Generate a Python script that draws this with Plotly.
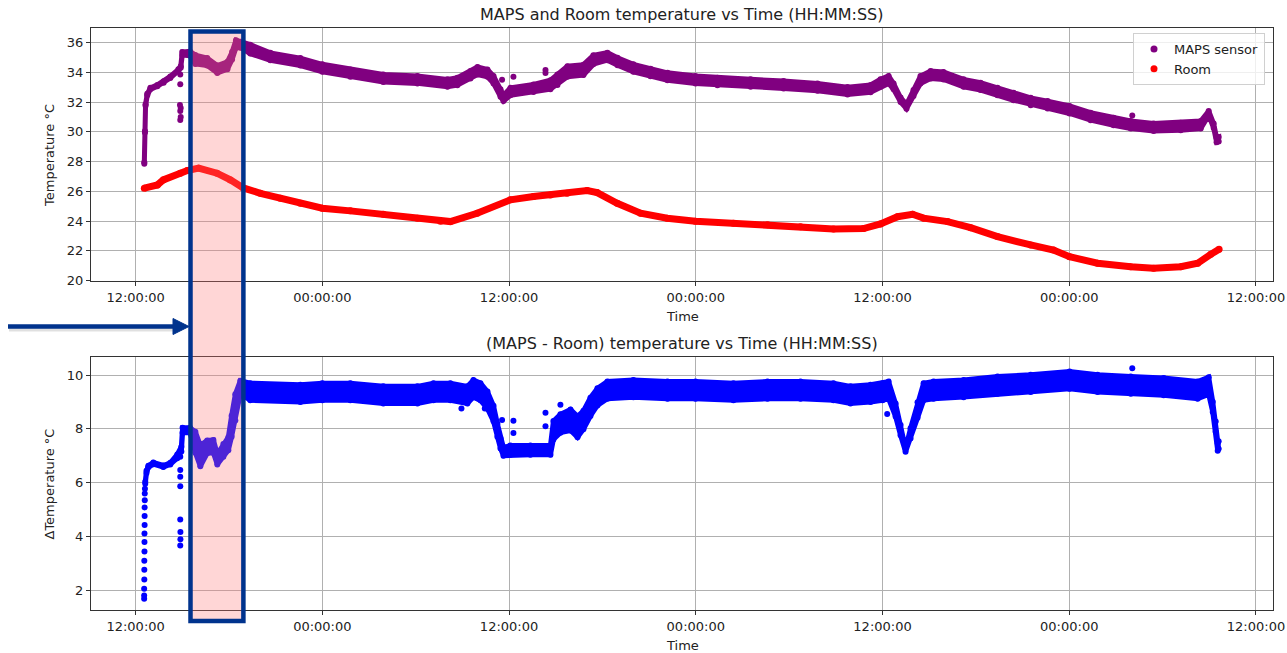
import pandas as pd
import plotly.graph_objects as go

# ---------------------------------------------------------------------------
# Logged readings (time = hours elapsed since midnight of the first day)
# ---------------------------------------------------------------------------
maps_hours = [12.56, 12.60, 12.64, 12.75, 12.95, 13.40, 13.80, 14.23, 14.75, 14.90,
              15.00, 15.50, 15.84, 16.60, 17.25, 17.90, 18.20, 18.45, 18.75, 19.37,
              20.66, 22.59, 24.00, 25.80, 27.92, 30.11, 32.04, 32.68, 33.52, 33.97,
              34.61, 35.00, 35.45, 35.64, 36.09, 37.57, 38.66, 39.11, 39.75, 40.78,
              41.42, 42.32, 42.97, 43.99, 45.09, 46.18, 47.98, 49.39, 51.52, 53.64,
              55.82, 57.75, 59.23, 59.87, 60.39, 60.71, 61.16, 61.54, 61.99, 62.44,
              63.09, 63.92, 65.21, 66.30, 67.39, 68.42, 69.52, 70.61, 72.02, 73.37,
              74.85, 75.95, 77.42, 79.16, 80.45, 80.96, 81.28, 81.47, 81.60]
maps_temp = [27.90, 30.00, 31.80, 32.50, 32.90, 33.10, 33.35, 33.67, 34.15, 34.35,
             35.25, 35.25, 34.85, 34.70, 34.20, 34.45, 35.10, 35.90, 35.85, 35.55,
             35.05, 34.70, 34.28, 33.94, 33.60, 33.50, 33.27, 33.38, 33.83, 34.10,
             33.94, 33.50, 32.60, 32.26, 32.70, 32.93, 33.16, 33.50, 34.05, 34.16,
             34.84, 35.06, 34.72, 34.28, 33.98, 33.71, 33.49, 33.38, 33.27, 33.16,
             33.00, 32.75, 32.90, 33.27, 33.50, 33.05, 32.15, 31.70, 32.60, 33.49,
             33.83, 33.76, 33.27, 33.05, 32.70, 32.37, 32.03, 31.81, 31.48, 31.03,
             30.69, 30.47, 30.30, 30.35, 30.47, 31.25, 30.40, 29.45, 29.50]
# half-spread of the scatter band around each reading (degC)
maps_spread = [0.05, 0.05, 0.05, 0.05, 0.05, 0.05, 0.05, 0.05, 0.05, 0.05,
               0.10, 0.15, 0.30, 0.25, 0.25, 0.25, 0.25, 0.25, 0.20, 0.30,
               0.25, 0.25, 0.25, 0.25, 0.25, 0.25, 0.25, 0.25, 0.25, 0.25,
               0.25, 0.25, 0.25, 0.20, 0.25, 0.25, 0.30, 0.35, 0.35, 0.35,
               0.30, 0.25, 0.25, 0.25, 0.25, 0.25, 0.25, 0.25, 0.25, 0.25,
               0.25, 0.25, 0.25, 0.25, 0.25, 0.20, 0.15, 0.15, 0.20, 0.25,
               0.25, 0.25, 0.25, 0.25, 0.25, 0.25, 0.25, 0.25, 0.25, 0.25,
               0.25, 0.25, 0.25, 0.25, 0.25, 0.15, 0.15, 0.15, 0.15]
maps_stray_hours = [14.87, 14.87, 14.85, 14.87, 14.90, 14.87, 14.90,
                    35.55, 36.28, 38.34, 38.34, 76.05]
maps_stray_temp = [33.85, 33.20, 31.80, 31.40, 31.00, 30.80, 31.60,
                   33.50, 33.70, 34.15, 33.95, 31.10]

room_hours = [12.56, 13.40, 13.78, 14.87, 15.32, 16.05, 17.23, 18.09, 18.92, 20.02,
              21.30, 22.59, 24.00, 25.80, 27.92, 30.11, 31.59, 32.23, 33.95, 36.09,
              37.57, 38.66, 39.73, 41.02, 41.66, 42.95, 44.45, 46.16, 47.98, 50.42,
              52.61, 54.73, 56.85, 58.78, 59.87, 60.96, 61.93, 62.64, 64.18, 65.66,
              67.39, 69.52, 70.99, 72.02, 73.82, 75.95, 77.42, 79.16, 80.25, 81.09,
              81.63]
room_temp = [26.21, 26.43, 26.77, 27.22, 27.40, 27.56, 27.22, 26.77, 26.23, 25.87,
             25.54, 25.20, 24.87, 24.69, 24.46, 24.20, 24.00, 23.97, 24.53, 25.43,
             25.65, 25.76, 25.87, 26.05, 25.92, 25.20, 24.53, 24.20, 24.00, 23.86,
             23.75, 23.63, 23.48, 23.50, 23.81, 24.30, 24.46, 24.20, 23.97, 23.56,
             22.96, 22.40, 22.06, 21.61, 21.17, 20.94, 20.83, 20.94, 21.17, 21.77,
             22.11]

delta_hours = [12.62, 12.70, 12.82, 13.14, 13.78, 14.23, 14.68, 14.94, 15.02, 15.50,
               15.84, 16.16, 16.60, 17.00, 17.25, 17.64, 17.96, 18.17, 18.41, 18.73,
               19.37, 22.59, 24.00, 25.80, 27.92, 30.11, 31.14, 32.23, 33.32, 33.71,
               34.16, 34.61, 35.00, 35.25, 35.45, 35.64, 36.09, 37.37, 38.66, 38.85,
               39.30, 39.95, 40.40, 40.78, 41.23, 41.68, 42.32, 43.99, 46.18, 47.98,
               50.42, 52.61, 54.73, 56.85, 57.94, 59.23, 60.00, 60.39, 60.84, 61.16,
               61.48, 61.80, 62.25, 62.64, 63.28, 65.21, 67.39, 69.52, 72.02, 73.82,
               75.95, 78.07, 80.25, 80.96, 81.22, 81.41, 81.54, 81.60]
delta_temp = [6.00, 6.40, 6.60, 6.72, 6.61, 6.71, 6.98, 7.25, 7.95, 7.95,
              7.50, 7.00, 7.33, 7.35, 6.87, 7.20, 7.45, 8.10, 8.80, 9.55,
              9.38, 9.32, 9.38, 9.38, 9.26, 9.26, 9.38, 9.38, 9.26, 9.50,
              9.38, 9.07, 8.57, 7.95, 7.46, 7.15, 7.21, 7.21, 7.21, 7.95,
              8.20, 8.33, 8.08, 8.33, 8.82, 9.19, 9.44, 9.50, 9.44, 9.44,
              9.38, 9.44, 9.44, 9.38, 9.26, 9.32, 9.38, 9.44, 8.70, 7.95,
              7.21, 7.83, 8.70, 9.38, 9.44, 9.50, 9.63, 9.69, 9.81, 9.69,
              9.63, 9.57, 9.44, 9.60, 8.82, 8.08, 7.33, 7.40]
delta_spread = [0.04, 0.04, 0.03, 0.03, 0.03, 0.03, 0.07, 0.09, 0.09, 0.09,
                0.39, 0.39, 0.24, 0.24, 0.19, 0.24, 0.24, 0.39, 0.49, 0.24,
                0.32, 0.32, 0.32, 0.32, 0.32, 0.32, 0.32, 0.32, 0.32, 0.32,
                0.32, 0.32, 0.29, 0.24, 0.19, 0.15, 0.17, 0.17, 0.17, 0.34,
                0.34, 0.39, 0.39, 0.34, 0.34, 0.32, 0.32, 0.32, 0.32, 0.32,
                0.32, 0.32, 0.32, 0.32, 0.32, 0.32, 0.32, 0.32, 0.24, 0.19,
                0.06, 0.19, 0.29, 0.32, 0.32, 0.32, 0.32, 0.32, 0.32, 0.32,
                0.32, 0.32, 0.32, 0.32, 0.19, 0.19, 0.14, 0.14]
delta_stray_hours = [12.55, 12.55, 12.55, 12.56, 12.56, 12.56, 12.57, 12.57, 12.57,
                     12.58, 12.58, 12.58, 12.59, 12.59, 12.60,
                     14.87, 14.87, 14.87, 14.87, 14.87, 14.88, 14.88, 14.87,
                     32.94, 34.44, 35.55, 36.28, 36.28, 38.34, 38.34, 39.30,
                     60.30, 76.05]
delta_stray_temp = [1.69, 1.81, 2.06, 2.40, 2.77, 3.10, 3.44, 3.80, 4.11,
                    4.43, 4.76, 5.08, 5.35, 5.60, 5.78,
                    6.96, 6.47, 6.22, 5.87, 4.63, 4.17, 3.90, 3.67,
                    8.76, 8.76, 8.33, 8.30, 7.85, 8.60, 8.10, 8.90,
                    8.55, 10.25]

tick_hours = [12, 24, 36, 48, 60, 72, 84]

# ---------------------------------------------------------------------------
START = pd.Timestamp("2024-03-04")


def to_time(hours):
    return [START + pd.Timedelta(hours=h) for h in hours]


PURPLE, RED, BLUE = "purple", "red", "#0000ff"
NAVY = "#00338d"
FONT = "DejaVu Sans"
TXT = "#222222"

# figure geometry (pixels)
W, H = 1287, 653
ML, MR, MT, MB = 91, 14, 28, 43
PW, PH = W - ML - MR, H - MT - MB


def px(x):
    return (x - ML) / PW


def py(y):
    return (H - MB - y) / PH


fig = go.Figure()


def band(hours, centre, spread, color, xa, ya):
    upper = [c + s for c, s in zip(centre, spread)]
    lower = [c - s for c, s in zip(centre, spread)]
    t = to_time(hours)
    fig.add_trace(go.Scatter(
        x=t + t[::-1], y=upper + lower[::-1], mode="lines+markers",
        fill="toself", fillcolor=color,
        line=dict(color=color, width=5), marker=dict(color=color, size=6),
        showlegend=False, hoverinfo="skip", xaxis=xa, yaxis=ya))


# top panel: MAPS sensor band, stray readings and room temperature
band(maps_hours, maps_temp, maps_spread, PURPLE, "x", "y")
fig.add_trace(go.Scatter(x=to_time(maps_stray_hours), y=maps_stray_temp, mode="markers",
                         marker=dict(color=PURPLE, size=6), showlegend=False,
                         xaxis="x", yaxis="y"))
fig.add_trace(go.Scatter(x=to_time(room_hours), y=room_temp, mode="lines+markers",
                         line=dict(color=RED, width=7), marker=dict(color=RED, size=7),
                         showlegend=False, xaxis="x", yaxis="y"))
# legend entries
fig.add_trace(go.Scatter(x=[None], y=[None], mode="markers", name="MAPS sensor",
                         marker=dict(color=PURPLE, size=7), xaxis="x", yaxis="y"))
fig.add_trace(go.Scatter(x=[None], y=[None], mode="markers", name="Room",
                         marker=dict(color=RED, size=7), xaxis="x", yaxis="y"))

# bottom panel: MAPS - Room
band(delta_hours, delta_temp, delta_spread, BLUE, "x2", "y2")
fig.add_trace(go.Scatter(x=to_time(delta_stray_hours), y=delta_stray_temp, mode="markers",
                         marker=dict(color=BLUE, size=6), showlegend=False,
                         xaxis="x2", yaxis="y2"))

xrange = to_time([9.134, 85.093])
axis_common = dict(showgrid=True, gridcolor="#b0b0b0", gridwidth=0.8,
                   showline=True, mirror=True, linecolor="#333333", linewidth=1,
                   ticks="outside", ticklen=4, tickcolor="#333333",
                   tickfont=dict(family=FONT, size=13, color=TXT), zeroline=False)
xaxis_common = dict(axis_common, type="date", range=xrange,
                    tickvals=to_time(tick_hours), tickformat="%H:%M:%S")

top_dom = [py(281), 1.0]
bot_dom = [0.0, py(357.3)]

fig.update_layout(
    width=W, height=H,
    margin=dict(l=ML, r=MR, t=MT, b=MB, autoexpand=False),
    plot_bgcolor="white", paper_bgcolor="white",
    font=dict(family=FONT, size=13, color=TXT),
    xaxis=dict(xaxis_common, domain=[0, 1], anchor="y"),
    yaxis=dict(axis_common, domain=top_dom, anchor="x", range=[19.98, 36.97],
               tickvals=[20, 22, 24, 26, 28, 30, 32, 34, 36]),
    xaxis2=dict(xaxis_common, domain=[0, 1], anchor="y2"),
    yaxis2=dict(axis_common, domain=bot_dom, anchor="x2", range=[1.27, 10.66],
                tickvals=[2, 4, 6, 8, 10]),
    legend=dict(x=px(1265), y=py(33), xanchor="right", yanchor="top",
                bgcolor="rgba(255,255,255,0.8)", bordercolor="#d0d0d0", borderwidth=1,
                font=dict(family=FONT, size=13, color=TXT), itemwidth=30),
    showlegend=True,
)

ann = [
    dict(text="MAPS and Room temperature vs Time (HH:MM:SS)", x=0.5, y=py(14), size=16),
    dict(text="(MAPS - Room) temperature vs Time (HH:MM:SS)", x=0.5, y=py(343), size=16),
    dict(text="Time", x=0.5, y=py(316), size=13),
    dict(text="Time", x=0.5, y=py(645), size=13),
]
for a in ann:
    fig.add_annotation(text=a["text"], x=a["x"], y=a["y"], xref="paper", yref="paper",
                       xanchor="center", yanchor="middle", showarrow=False,
                       font=dict(family=FONT, size=a["size"], color=TXT))
for text, yc in [("Temperature °C", 156), ("ΔTemperature °C", 484.5)]:
    fig.add_annotation(text=text, x=px(49), y=py(yc), xref="paper", yref="paper",
                       xanchor="center", yanchor="middle", textangle=-90, showarrow=False,
                       font=dict(family=FONT, size=13, color=TXT))

# highlighted window spanning both panels
fig.add_shape(type="rect", xref="paper", yref="paper",
              x0=px(190.5), x1=px(243.4), y0=py(621), y1=py(31.5),
              fillcolor="rgba(255,120,120,0.30)", line=dict(color=NAVY, width=4.5),
              layer="above")

# pointer arrow (with a soft shadow)
fig.add_shape(type="line", xref="paper", yref="paper",
              x0=px(9), x1=px(176), y0=py(328.5), y1=py(328.5),
              line=dict(color="rgba(0,0,0,0.12)", width=6), layer="above")
fig.add_shape(type="line", xref="paper", yref="paper",
              x0=px(8), x1=px(176), y0=py(326.5), y1=py(326.5),
              line=dict(color=NAVY, width=4.5), layer="above")
fig.add_shape(type="path", xref="paper", yref="paper",
              path=f"M {px(173)} {py(318.5)} L {px(189)} {py(326.5)} L {px(173)} {py(334.5)} Z",
              fillcolor=NAVY, line=dict(color=NAVY, width=1), layer="above")

fig.write_html("out.html")
